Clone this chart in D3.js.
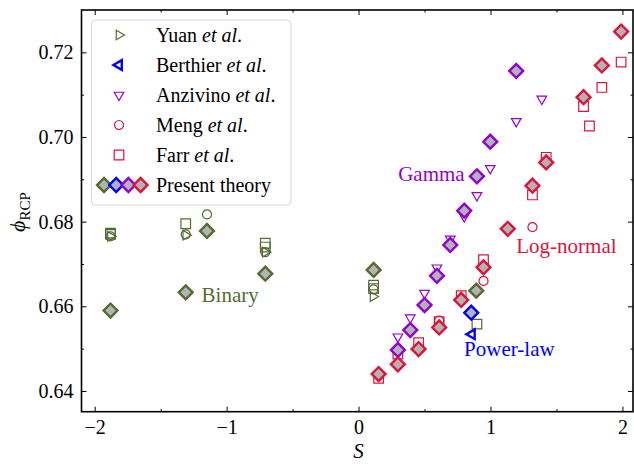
<!DOCTYPE html>
<html>
<head>
<meta charset="utf-8">
<script src="https://cdn.jsdelivr.net/npm/d3@7"></script>
<style>
  body { margin: 0; background: #fff; }
  svg text { font-family: "Liberation Serif", "DejaVu Serif", serif; }
</style>
</head>
<body>
<div id="chart"></div>
<script>
// present theory, one array pair per size distribution
const binaryS = [-1.88, -1.31, -1.149, -0.707, 0.114, 0.892];
const binaryPhi = [0.659, 0.6633, 0.6778, 0.6677, 0.6686, 0.6637];
const powerLawS = [0.854];
const powerLawPhi = [0.6585];
const gammaS = [0.298, 0.392, 0.5, 0.594, 0.695, 0.801, 0.897, 0.998, 1.195, 1.39];
const gammaPhi = [0.6497, 0.6544, 0.6603, 0.6672, 0.6745, 0.6826, 0.6907, 0.6989, 0.7156, 0.7325];
const logNormalS = [0.152, 0.298, 0.455, 0.611, 0.778, 0.947, 1.131, 1.318, 1.422, 1.705, 1.844, 1.99];
const logNormalPhi = [0.644, 0.6463, 0.6499, 0.655, 0.6615, 0.6692, 0.6783, 0.6885, 0.694, 0.7094, 0.7169, 0.7249];

// experiments / simulations
const yuanS = [-1.88, -1.31, -0.707, 0.11];
const yuanPhi = [0.6765, 0.6768, 0.6728, 0.6623];
const yuanDist = ['binary', 'binary', 'binary', 'binary'];

const berthierS = [0.859];
const berthierPhi = [0.6534];
const berthierDist = ['powerLaw'];

const anzivinoS = [0.298, 0.392, 0.5, 0.594, 0.695, 0.801, 0.897, 0.998, 1.195, 1.389];
const anzivinoPhi = [0.6528, 0.6573, 0.6631, 0.6691, 0.6759, 0.6812, 0.6862, 0.6926, 0.7037, 0.709];
const anzivinoDist = ['gamma', 'gamma', 'gamma', 'gamma', 'gamma', 'gamma', 'gamma', 'gamma', 'gamma', 'gamma'];

const mengS = [-1.88, -1.31, -1.149, -0.707, 0.114, 0.298, 0.611, 0.947, 1.318];
const mengPhi = [0.6765, 0.677, 0.6817, 0.6728, 0.664, 0.6497, 0.6566, 0.666, 0.6787];
const mengDist = ['binary', 'binary', 'binary', 'binary', 'binary', 'logNormal', 'logNormal', 'logNormal', 'logNormal'];

const farrS = [-1.88, -1.88, -1.31, -0.707, -0.707, 0.114, 0.114, 0.897,
    0.152, 0.298, 0.455, 0.611, 0.778, 0.947, 1.318, 1.422, 1.705, 1.75, 1.844, 1.99];
const farrPhi = [0.6773, 0.677, 0.6795, 0.6749, 0.674, 0.665, 0.6642, 0.6558,
    0.643, 0.6487, 0.6514, 0.6564, 0.6625, 0.671, 0.6863, 0.6952, 0.7072, 0.7026, 0.7117, 0.7177];
const farrDist = ['binary', 'binary', 'binary', 'binary', 'binary', 'binary', 'binary', 'binary',
    'logNormal', 'logNormal', 'logNormal', 'logNormal', 'logNormal', 'logNormal',
    'logNormal', 'logNormal', 'logNormal', 'logNormal', 'logNormal', 'logNormal'];

const xTicks = [-2, -1, 0, 1, 2];
const yTicks = [0.64, 0.66, 0.68, 0.70, 0.72];
const legendNames = ['Yuan', 'Berthier', 'Anzivino', 'Meng', 'Farr'];

const colors = {
    binary: '#556b2f',
    powerLaw: '#0000ff',
    gamma: '#9400d3',
    logNormal: '#dc143c'
};

const width = 634;
const height = 464;
const margin = { top: 10, right: 1, bottom: 52.3, left: 81.5 };

const svg = d3.select('#chart')
    .append('svg')
    .attr('width', width)
    .attr('height', height);

const x = d3.scaleLinear()
    .domain([-2.1, 2.08])
    .range([margin.left, width - margin.right]);

const y = d3.scaleLinear()
    .domain([0.6351, 0.7300])
    .range([height - margin.bottom, margin.top]);

svg.append('clipPath')
    .attr('id', 'clip')
    .append('rect')
    .attr('x', margin.left)
    .attr('y', margin.top)
    .attr('width', width - margin.right - margin.left)
    .attr('height', height - margin.bottom - margin.top);

// marker shapes
const triangle = d3.symbol().type(d3.symbolTriangle).size(40);
const square = d3.symbol().type(d3.symbolSquare).size(92);
const circle = d3.symbol().type(d3.symbolCircle).size(64);
const diamond = d3.symbol().type(d3.symbolSquare).size(96);

const zip = (s, p, dist) => s.map((v, i) => ({ s: v, phi: p[i], dist: dist ? dist[i] : null }));

const plot = svg.append('g').attr('clip-path', 'url(#clip)');

function drawOpen(data, shape, rotate, strokeWidth) {
    plot.append('g')
        .selectAll('path')
        .data(data)
        .enter()
        .append('path')
        .attr('d', shape)
        .attr('transform', d => `translate(${x(d.s)},${y(d.phi)}) rotate(${rotate})`)
        .attr('fill', 'none')
        .attr('stroke', d => colors[d.dist])
        .attr('stroke-width', strokeWidth);
}

drawOpen(zip(farrS, farrPhi, farrDist), square, 0, 1.2);
drawOpen(zip(mengS, mengPhi, mengDist), circle, 0, 1.2);
drawOpen(zip(yuanS, yuanPhi, yuanDist), triangle, 90, 1.2);
drawOpen(zip(anzivinoS, anzivinoPhi, anzivinoDist), triangle, 180, 1.2);
drawOpen(zip(berthierS, berthierPhi, berthierDist), triangle, -90, 2.4);

function drawTheory(s, phi, dist) {
    plot.append('g')
        .selectAll('path')
        .data(zip(s, phi))
        .enter()
        .append('path')
        .attr('d', diamond)
        .attr('transform', d => `translate(${x(d.s)},${y(d.phi)}) rotate(45)`)
        .attr('fill', '#b3b3b3')
        .attr('stroke', colors[dist])
        .attr('stroke-width', 2.4)
        .attr('stroke-linejoin', 'miter');
}

drawTheory(binaryS, binaryPhi, 'binary');
drawTheory(powerLawS, powerLawPhi, 'powerLaw');
drawTheory(gammaS, gammaPhi, 'gamma');
drawTheory(logNormalS, logNormalPhi, 'logNormal');

// axes, ticks pointing inwards on all four sides
const plotH = height - margin.bottom;
const plotW = width - margin.right;

function styleAxis(g) {
    g.select('.domain').remove();
    g.selectAll('line').attr('stroke', '#000').attr('stroke-width', 1);
    g.selectAll('text').attr('font-size', 20).attr('fill', '#000');
}

const fmtX = d => d < 0 ? '\u2212' + Math.abs(d) : String(d);

svg.append('g')
    .attr('transform', `translate(0,${plotH})`)
    .call(d3.axisBottom(x).tickValues(xTicks).tickSize(-5).tickPadding(8).tickFormat(fmtX))
    .call(styleAxis);

svg.append('g')
    .attr('transform', `translate(0,${plotH})`)
    .call(d3.axisBottom(x).tickValues([-1.5, -0.5, 0.5, 1.5]).tickSize(-2.5).tickFormat(''))
    .call(styleAxis);

svg.append('g')
    .attr('transform', `translate(0,${margin.top})`)
    .call(d3.axisTop(x).tickValues(xTicks).tickSize(-5).tickFormat(''))
    .call(styleAxis);

svg.append('g')
    .attr('transform', `translate(0,${margin.top})`)
    .call(d3.axisTop(x).tickValues([-1.5, -0.5, 0.5, 1.5]).tickSize(-2.5).tickFormat(''))
    .call(styleAxis);

svg.append('g')
    .attr('transform', `translate(${margin.left},0)`)
    .call(d3.axisLeft(y).tickValues(yTicks).tickSize(-5).tickPadding(8).tickFormat(d3.format('.2f')))
    .call(styleAxis);

svg.append('g')
    .attr('transform', `translate(${margin.left},0)`)
    .call(d3.axisLeft(y).tickValues([0.65, 0.67, 0.69, 0.71]).tickSize(-2.5).tickFormat(''))
    .call(styleAxis);

svg.append('g')
    .attr('transform', `translate(${plotW},0)`)
    .call(d3.axisRight(y).tickValues(yTicks).tickSize(-5).tickFormat(''))
    .call(styleAxis);

svg.append('g')
    .attr('transform', `translate(${plotW},0)`)
    .call(d3.axisRight(y).tickValues([0.65, 0.67, 0.69, 0.71]).tickSize(-2.5).tickFormat(''))
    .call(styleAxis);

svg.append('rect')
    .attr('x', margin.left)
    .attr('y', margin.top)
    .attr('width', plotW - margin.left)
    .attr('height', plotH - margin.top)
    .attr('fill', 'none')
    .attr('stroke', '#000')
    .attr('stroke-width', 1.6);

// axis labels
svg.append('text')
    .attr('x', x(0))
    .attr('y', 458)
    .attr('text-anchor', 'middle')
    .attr('font-size', 21)
    .attr('font-style', 'italic')
    .text('S');

const yLabel = svg.append('text')
    .attr('transform', 'translate(25,212) rotate(-90)')
    .attr('text-anchor', 'middle')
    .attr('font-size', 22);
yLabel.append('tspan').attr('font-style', 'italic').text('\u03d5');
yLabel.append('tspan').attr('font-size', 15).attr('dy', 5).text('RCP');

// curve annotations
const notes = [
    { text: 'Binary', s: -1.19, phi: 0.6609, dist: 'binary' },
    { text: 'Gamma', s: 0.3, phi: 0.6897, dist: 'gamma' },
    { text: 'Log-normal', s: 1.195, phi: 0.6725, dist: 'logNormal' },
    { text: 'Power-law', s: 0.8, phi: 0.6482, dist: 'powerLaw' }
];

svg.append('g')
    .selectAll('text')
    .data(notes)
    .enter()
    .append('text')
    .attr('x', d => x(d.s))
    .attr('y', d => y(d.phi))
    .attr('font-size', 21)
    .attr('fill', d => colors[d.dist])
    .text(d => d.text);

// legend
const legend = svg.append('g');

legend.append('rect')
    .attr('x', 91.5)
    .attr('y', 20)
    .attr('width', 199.5)
    .attr('height', 185)
    .attr('rx', 4)
    .attr('fill', '#fff')
    .attr('fill-opacity', 0.8)
    .attr('stroke', '#d6d6d6')
    .attr('stroke-width', 1);

const legendMarks = [
    { shape: triangle, rotate: 90, dist: 'binary', sw: 1.2 },
    { shape: triangle, rotate: -90, dist: 'powerLaw', sw: 2.4 },
    { shape: triangle, rotate: 180, dist: 'gamma', sw: 1.2 },
    { shape: circle, rotate: 0, dist: 'logNormal', sw: 1.2 },
    { shape: square, rotate: 0, dist: 'logNormal', sw: 1.2 }
];

legendNames.forEach((name, i) => {
    const ly = 35 + i * 30;
    const m = legendMarks[i];
    legend.append('path')
        .attr('d', m.shape)
        .attr('transform', `translate(119,${ly}) rotate(${m.rotate})`)
        .attr('fill', 'none')
        .attr('stroke', colors[m.dist])
        .attr('stroke-width', m.sw);
    const t = legend.append('text')
        .attr('x', 156)
        .attr('y', ly + 7)
        .attr('font-size', 20);
    t.append('tspan').text(name + ' ');
    t.append('tspan').attr('font-style', 'italic').text('et al');
    t.append('tspan').text('.');
});

const theoryKeys = ['binary', 'powerLaw', 'gamma', 'logNormal'];
theoryKeys.forEach((k, i) => {
    legend.append('path')
        .attr('d', diamond)
        .attr('transform', `translate(${104 + i * 12.2},185) rotate(45)`)
        .attr('fill', '#b3b3b3')
        .attr('stroke', colors[k])
        .attr('stroke-width', 2.4);
});

legend.append('text')
    .attr('x', 156)
    .attr('y', 192)
    .attr('font-size', 20)
    .text('Present theory');
</script>
</body>
</html>
